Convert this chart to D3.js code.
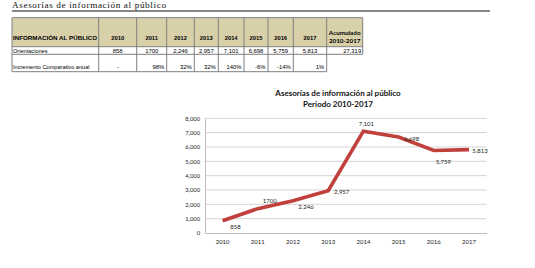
<!DOCTYPE html>
<html>
<head>
<meta charset="utf-8">
<script src="https://cdn.jsdelivr.net/npm/d3@7"></script>
<style>
  html, body { margin: 0; padding: 0; background: #fff; }
  svg { display: block; }
</style>
</head>
<body>
<div id="chart"></div>
<script>
// Data
const years = ['2010', '2011', '2012', '2013', '2014', '2015', '2016', '2017'];
const orientaciones = [858, 1700, 2246, 2957, 7101, 6698, 5759, 5813];
const orientLabels = ['858', '1700', '2,246', '2,957', '7,101', '6,698', '5,759', '5,813'];
const incremento = ['-', '98%', '32%', '32%', '140%', '-6%', '-14%', '1%'];
const acumulado = '27,319';
const yTicks = [0, 1000, 2000, 3000, 4000, 5000, 6000, 7000, 8000];

const W = 535, H = 268;
const svg = d3.select('#chart').append('svg').attr('width', W).attr('height', H);

// Page heading + rule
svg.append('text')
  .attr('x', 12).attr('y', 8)
  .attr('font-family', "'Liberation Serif', serif")
  .attr('font-size', '9.2px')
  .attr('textLength', 154).attr('lengthAdjust', 'spacing')
  .attr('fill', '#111')
  .text('Asesorías de información al público');
svg.append('line')
  .attr('x1', 12).attr('x2', 490).attr('y1', 11).attr('y2', 11)
  .attr('stroke', '#111').attr('stroke-width', 1);

// ---- Table ----
const colX = [12, 98.7, 136.7, 166.7, 194.3, 218.3, 244, 268, 293.3, 326.7, 362.7];
const rowY = [17.7, 46.7, 54.3, 71.7];
const tbl = svg.append('g');
const border = '#7f7f7f';

tbl.append('rect')
  .attr('x', colX[0]).attr('y', rowY[0])
  .attr('width', colX[10] - colX[0]).attr('height', rowY[1] - rowY[0])
  .attr('fill', '#d8d0a9');

// horizontal lines
tbl.append('line').attr('x1', colX[0]).attr('x2', colX[10]).attr('y1', rowY[0]).attr('y2', rowY[0]).attr('stroke', border);
tbl.append('line').attr('x1', colX[0]).attr('x2', colX[10]).attr('y1', rowY[1]).attr('y2', rowY[1]).attr('stroke', border);
tbl.append('line').attr('x1', colX[0]).attr('x2', colX[10]).attr('y1', rowY[2]).attr('y2', rowY[2]).attr('stroke', border);
tbl.append('line').attr('x1', colX[0]).attr('x2', colX[9]).attr('y1', rowY[3]).attr('y2', rowY[3]).attr('stroke', border);
// vertical lines
colX.forEach((x, i) => {
  tbl.append('line')
    .attr('x1', x).attr('x2', x)
    .attr('y1', rowY[0]).attr('y2', i === 10 ? rowY[2] : rowY[3])
    .attr('stroke', border);
});

const arial = "'Liberation Sans', Arial, sans-serif";
tbl.append('text')
  .attr('x', colX[0] + 1).attr('y', 40.2)
  .attr('font-family', arial).attr('font-weight', 'bold').attr('font-size', '6.2px')
  .attr('textLength', 84).attr('lengthAdjust', 'spacingAndGlyphs')
  .text('INFORMACIÓN AL PÚBLICO');

years.forEach((yr, i) => {
  const cx = (colX[i + 1] + colX[i + 2]) / 2;
  tbl.append('text')
    .attr('x', cx).attr('y', 40.2).attr('text-anchor', 'middle')
    .attr('font-family', arial).attr('font-weight', 'bold').attr('font-size', '5.8px')
    .text(yr);
  tbl.append('text')
    .attr('x', cx).attr('y', 52.6).attr('text-anchor', 'middle')
    .attr('font-family', arial).attr('font-size', '5.9px')
    .text(orientLabels[i]);
  const inc = incremento[i];
  tbl.append('text')
    .attr('x', inc === '-' ? cx : colX[i + 2] - 2.5).attr('y', 68.5)
    .attr('text-anchor', inc === '-' ? 'middle' : 'end')
    .attr('font-family', arial).attr('font-size', '5.9px')
    .text(inc);
});

const accX = (colX[9] + colX[10]) / 2;
tbl.append('text')
  .attr('x', accX).attr('y', 34.5).attr('text-anchor', 'middle')
  .attr('font-family', 'Lato, sans-serif').attr('font-weight', 'bold').attr('font-size', '6.3px')
  .text('Acumulado');
tbl.append('text')
  .attr('x', accX).attr('y', 42.5).attr('text-anchor', 'middle')
  .attr('font-family', 'Lato, sans-serif').attr('font-weight', 'bold').attr('font-size', '6.3px')
  .text('2010-2017');
tbl.append('text')
  .attr('x', colX[10] - 1.5).attr('y', 52.6).attr('text-anchor', 'end')
  .attr('font-family', arial).attr('font-size', '5.9px')
  .text(acumulado);

tbl.append('text')
  .attr('x', colX[0] + 1).attr('y', 52.6)
  .attr('font-family', arial).attr('font-size', '5.6px')
  .text('Orientaciones');
tbl.append('text')
  .attr('x', colX[0] + 1).attr('y', 68.5)
  .attr('font-family', arial).attr('font-size', '5.6px')
  .text('Incremento Comparativo anual');

// ---- Line chart ----
const plot = { left: 205, right: 486.6, top: 118.3, bottom: 233 };
const x = d3.scaleBand().domain(years).range([plot.left, plot.right]);
const y = d3.scaleLinear().domain([0, 8000]).range([plot.bottom, plot.top]);
const lato = 'Lato, sans-serif';

svg.append('text')
  .attr('x', 338).attr('y', 95.5).attr('text-anchor', 'middle')
  .attr('font-family', lato).attr('font-weight', 'bold').attr('font-size', '8px')
  .attr('fill', '#111')
  .text('Asesorías de información al público');
svg.append('text')
  .attr('x', 338).attr('y', 106.5).attr('text-anchor', 'middle')
  .attr('font-family', lato).attr('font-weight', 'bold').attr('font-size', '8px')
  .attr('fill', '#111')
  .text('Periodo 2010-2017');

const grid = svg.append('g');
grid.selectAll('line')
  .data(yTicks.filter(d => d > 0))
  .enter().append('line')
  .attr('x1', plot.left).attr('x2', plot.right)
  .attr('y1', d => y(d)).attr('y2', d => y(d))
  .attr('stroke', '#d4d4d4').attr('stroke-width', 1);

const yAxis = svg.append('g')
  .attr('transform', `translate(${plot.left},0)`)
  .call(d3.axisLeft(y).tickValues(yTicks).tickFormat(d3.format(',')).tickSize(0).tickPadding(5));
yAxis.select('.domain').attr('stroke', '#bfbfbf');
yAxis.selectAll('text').attr('font-family', lato).attr('font-size', '5.8px').attr('fill', '#222');

const xAxis = svg.append('g')
  .attr('transform', `translate(0,${plot.bottom})`)
  .call(d3.axisBottom(x).tickSize(0).tickPadding(7));
xAxis.select('.domain').attr('stroke', '#bfbfbf');
xAxis.selectAll('text').attr('font-family', lato).attr('font-size', '6px').attr('fill', '#222');

const line = d3.line()
  .x((d, i) => x(years[i]) + x.bandwidth() / 2)
  .y(d => y(d));
svg.append('path')
  .datum(orientaciones)
  .attr('fill', 'none')
  .attr('stroke', '#c0403c')
  .attr('stroke-width', 3.6)
  .attr('stroke-linejoin', 'miter')
  .attr('d', line);

// label offsets relative to each point (dx, dy)
const labelOffsets = [[13, 6.5], [12, -7], [13, 7], [13.5, 2], [3, -7], [13, 2.5], [9.5, 12], [11, 2]];
svg.append('g').selectAll('text')
  .data(orientaciones)
  .enter().append('text')
  .attr('x', (d, i) => x(years[i]) + x.bandwidth() / 2 + labelOffsets[i][0])
  .attr('y', (d, i) => y(d) + labelOffsets[i][1])
  .attr('text-anchor', 'middle')
  .attr('dominant-baseline', 'middle')
  .attr('font-family', lato).attr('font-size', '6px').attr('fill', '#222')
  .text((d, i) => orientLabels[i]);
</script>
</body>
</html>
